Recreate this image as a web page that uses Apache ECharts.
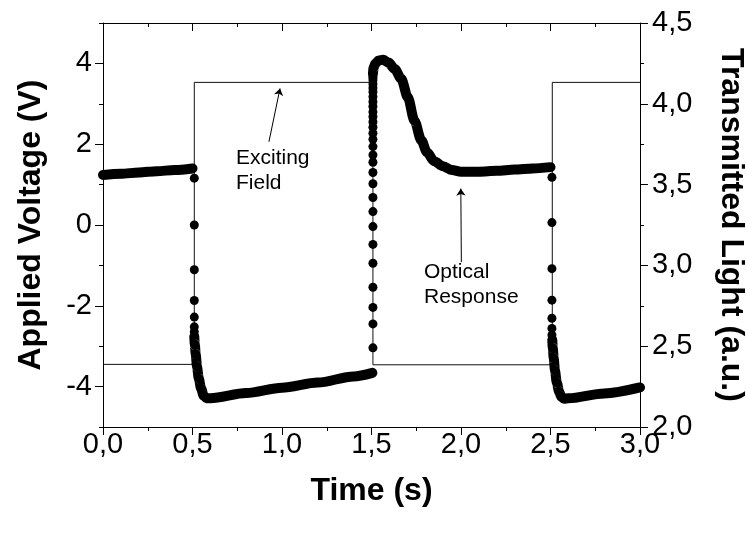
<!DOCTYPE html>
<html>
<head>
<meta charset="utf-8">
<script src="https://cdn.jsdelivr.net/npm/echarts@6/dist/echarts.min.js"></script>
<style>
  html, body { margin: 0; padding: 0; background: #fff; }
  #chart { width: 746px; height: 534px; }
</style>
</head>
<body>
<div id="chart"></div>
<script>
// Exciting field, applied voltage (V), drawn as steps
const fieldSteps = [[0, -3.45], [0.51, 3.53], [1.508, -3.46], [2.51, 3.53], [3.0, 3.53]];

// Optical response, transmitted light (a.u.): dense runs (thick band)
const optRun1 = [[0, 3.56], [0.1, 3.567], [0.2, 3.575], [0.3, 3.583], [0.4, 3.59], [0.5, 3.6]];
const optRun2 = [[0.51, 2.56], [0.513, 2.51], [0.518, 2.45], [0.525, 2.375], [0.535, 2.3],
  [0.548, 2.238], [0.562, 2.195], [0.578, 2.178], [0.6, 2.178], [0.8, 2.21], [1.0, 2.243],
  [1.2, 2.275], [1.4, 2.313], [1.505, 2.335]];
const optRun3 = [[1.508, 4.185], [1.512, 4.225], [1.522, 4.25], [1.54, 4.268], [1.565, 4.272],
  [1.595, 4.255], [1.63, 4.215], [1.666, 4.155], [1.703, 4.04], [1.74, 3.895], [1.778, 3.775],
  [1.81, 3.7], [1.85, 3.645], [1.9, 3.613], [1.95, 3.59], [2.0, 3.58], [2.1, 3.58],
  [2.2, 3.585], [2.3, 3.593], [2.4, 3.6], [2.5, 3.608]];
const optRun4 = [[2.51, 2.538], [2.513, 2.488], [2.518, 2.425], [2.525, 2.35], [2.535, 2.275],
  [2.548, 2.22], [2.56, 2.188], [2.575, 2.175], [2.6, 2.178], [2.8, 2.208], [3.0, 2.245]];

// Optical response: separate samples on the switching edges
const optDrop1 = [[0.51, 3.54], [0.51, 3.25], [0.51, 2.973], [0.51, 2.783], [0.51, 2.68],
  [0.51, 2.62], [0.51, 2.59]];
const optRise = [[1.508, 2.49], [1.508, 2.638], [1.508, 2.74], [1.508, 2.865], [1.508, 3.013],
  [1.508, 3.13], [1.508, 3.24], [1.508, 3.333], [1.508, 3.42], [1.508, 3.505], [1.508, 3.575],
  [1.508, 3.638], [1.508, 3.683], [1.508, 3.735], [1.508, 3.78], [1.508, 3.818], [1.508, 3.855],
  [1.508, 3.888], [1.508, 3.92], [1.508, 3.95], [1.508, 3.983], [1.508, 4.013], [1.508, 4.043],
  [1.508, 4.073], [1.508, 4.098], [1.508, 4.123], [1.508, 4.148], [1.508, 4.165]];
const optDrop2 = [[2.508, 3.545], [2.508, 3.265], [2.508, 2.98], [2.508, 2.785], [2.508, 2.673],
  [2.508, 2.61], [2.508, 2.57]];

// Tick values
const leftMajorTicks = [-4, -2, 0, 2, 4];
const leftMinorTicks = [-5, -3, -1, 1, 3, 5];

// Annotation arrows (tail, head) in axis units (time, applied voltage)
const fieldArrow = [[0.927, 2.06], [0.989, 3.38]];
const opticalArrow = [[2.002, -0.92], [1.999, 0.9]];

const FONT = '"Liberation Sans", Arial, sans-serif';
const comma = v => v.toFixed(1).replace('.', ',');
const black = { color: '#000', width: 1 };

const chart = echarts.init(document.getElementById('chart'));

const runStyle = (data) => ({
  type: 'line',
  xAxisIndex: 0,
  yAxisIndex: 1,
  data: data,
  showSymbol: false,
  smooth: 0.3,
  smoothMonotone: 'x',
  lineStyle: { color: '#000', width: 10, cap: 'round', join: 'round' },
  silent: true,
  z: 3
});

const dotStyle = (data) => ({
  type: 'scatter',
  xAxisIndex: 0,
  yAxisIndex: 1,
  data: data,
  symbol: 'circle',
  symbolSize: 9,
  itemStyle: { color: '#000', opacity: 1 },
  silent: true,
  z: 4
});

const option = {
  backgroundColor: '#fff',
  animation: false,
  grid: { left: 103, right: 106, top: 23, bottom: 107, containLabel: false, outerBoundsMode: 'none' },
  xAxis: [
    {
      type: 'value', position: 'bottom', min: 0, max: 3, interval: 0.5,
      axisLine: { onZero: false, lineStyle: black },
      axisTick: { length: 8, lineStyle: black },
      minorTick: { show: true, splitNumber: 2, length: 4, lineStyle: black },
      axisLabel: { color: '#000', fontSize: 29, fontFamily: FONT, margin: 3, formatter: comma },
      splitLine: { show: false },
      name: 'Time (s)', nameLocation: 'middle', nameGap: 48,
      nameTextStyle: { color: '#000', fontSize: 32, fontWeight: 'bold', fontFamily: FONT }
    },
    {
      type: 'value', position: 'top', min: 0, max: 3, interval: 0.5,
      axisLine: { onZero: false, lineStyle: black },
      axisTick: { inside: true, length: 8, lineStyle: black },
      minorTick: { show: true, splitNumber: 2, length: 4, lineStyle: black },
      axisLabel: { show: false },
      splitLine: { show: false }
    }
  ],
  yAxis: [
    {
      type: 'value', position: 'left', min: -5, max: 5,
      axisLine: { show: true, onZero: false, lineStyle: black },
      axisTick: { show: true, length: 8, lineStyle: black, customValues: leftMajorTicks },
      axisLabel: { color: '#000', fontSize: 29, fontFamily: FONT, margin: 11, customValues: leftMajorTicks },
      splitLine: { show: false },
      name: 'Applied Voltage (V)', nameLocation: 'middle', nameGap: 56,
      nameTextStyle: { color: '#000', fontSize: 32, fontWeight: 'bold', fontFamily: FONT }
    },
    {
      type: 'value', position: 'right', min: 2, max: 4.5, interval: 0.5,
      axisLine: { show: true, onZero: false, lineStyle: black },
      axisTick: { show: true, length: 8, lineStyle: black },
      minorTick: { show: true, splitNumber: 2, length: 4, lineStyle: black },
      axisLabel: { color: '#000', fontSize: 29, fontFamily: FONT, margin: 12, formatter: comma },
      splitLine: { show: false },
      name: 'Transmitted Light (a.u.)', nameLocation: 'middle', nameGap: 75, nameRotate: -90,
      nameTextStyle: { color: '#000', fontSize: 32, fontWeight: 'bold', fontFamily: FONT }
    },
    {
      type: 'value', position: 'left', min: -5, max: 5,
      axisLine: { show: false },
      axisTick: { show: true, length: 4, lineStyle: black, customValues: leftMinorTicks },
      axisLabel: { show: false, customValues: leftMinorTicks },
      splitLine: { show: false }
    }
  ],
  series: [
    {
      type: 'line',
      xAxisIndex: 0,
      yAxisIndex: 0,
      data: fieldSteps,
      step: 'end',
      showSymbol: false,
      lineStyle: { color: '#111', width: 1 },
      silent: true,
      z: 2,
      markLine: {
        silent: true,
        symbol: ['none', 'arrow'],
        symbolSize: 7,
        label: { show: false },
        lineStyle: { color: '#000', width: 1, type: 'solid' },
        data: [
          [{ coord: fieldArrow[0] }, { coord: fieldArrow[1] }],
          [{ coord: opticalArrow[0] }, { coord: opticalArrow[1] }]
        ]
      }
    },
    runStyle(optRun1),
    runStyle(optRun2),
    runStyle(optRun3),
    runStyle(optRun4),
    dotStyle(optDrop1),
    dotStyle(optRise),
    dotStyle(optDrop2)
  ],
  graphic: [
    { type: 'text', x: 236, y: 158, style: { text: 'Exciting', font: '21px ' + FONT, fill: '#000', verticalAlign: 'middle' } },
    { type: 'text', x: 236, y: 183, style: { text: 'Field', font: '21px ' + FONT, fill: '#000', verticalAlign: 'middle' } },
    { type: 'text', x: 424, y: 272, style: { text: 'Optical', font: '21px ' + FONT, fill: '#000', verticalAlign: 'middle' } },
    { type: 'text', x: 424, y: 297, style: { text: 'Response', font: '21px ' + FONT, fill: '#000', verticalAlign: 'middle' } }
  ]
};

chart.setOption(option);
</script>
</body>
</html>
